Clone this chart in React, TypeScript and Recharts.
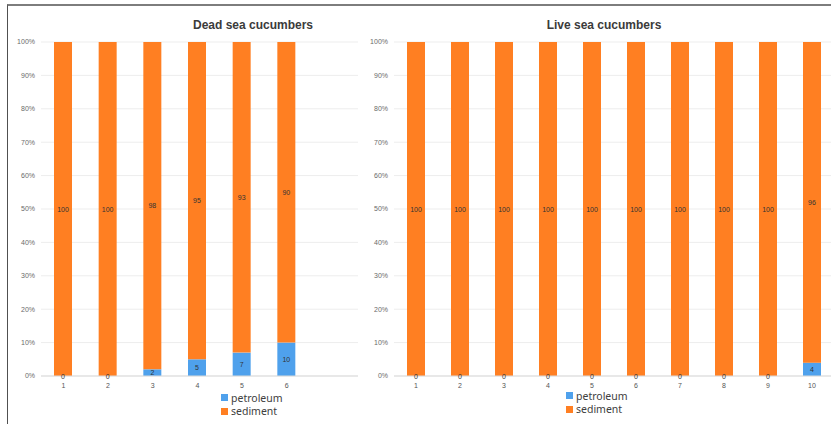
import React from 'react';
import { BarChart, Bar, XAxis, YAxis, CartesianGrid, LabelList, Legend } from 'recharts';

const deadCategories = ['1', '2', '3', '4', '5', '6'];
const deadPetroleum = [0, 0, 2, 5, 7, 10];
const deadSediment = [100, 100, 98, 95, 93, 90];

const liveCategories = ['1', '2', '3', '4', '5', '6', '7', '8', '9', '10'];
const livePetroleum = [0, 0, 0, 0, 0, 0, 0, 0, 0, 4];
const liveSediment = [100, 100, 100, 100, 100, 100, 100, 100, 100, 96];

const yTicks = [0, 10, 20, 30, 40, 50, 60, 70, 80, 90, 100];

const ORANGE = '#FF7F22';
const BLUE = '#4FA1EC';
const FONT = '"Liberation Sans", Arial, sans-serif';

function buildRows(cats: string[], pet: number[], sed: number[]) {
  return cats.map((c, i) => ({ cat: c, petroleum: pet[i], sediment: sed[i] }));
}

const LegendBox = (props: any) => {
  const payload = props.payload || [];
  return (
    <div style={{ fontFamily: '"Noto Sans", sans-serif', fontSize: 10.5, color: '#404040' }}>
      {payload.map((p: any) => (
        <div key={p.value} style={{ display: 'flex', alignItems: 'center', height: 13.5, whiteSpace: 'nowrap' }}>
          <span style={{ width: 7, height: 7, background: p.color, marginRight: 3, display: 'inline-block' }} />
          <span>{p.value}</span>
        </div>
      ))}
    </div>
  );
};

// Draws both segment labels from the top (sediment) layer so none is hidden
const makeStackLabel = (rows: any[]) => (props: any) => {
  const { x, y, width, height, index } = props;
  const row = rows[index];
  if (!row) return null;
  const cx = Number(x) + Number(width) / 2;
  const top = Number(y);
  const h = Number(height);
  const bottom = top + h;
  const petH = row.sediment > 0 ? (h * row.petroleum) / row.sediment : 0;
  return (
    <g>
      <text x={cx} y={top + h / 2} textAnchor="middle" dominantBaseline="central" fontSize={7} fill="#333333">
        {row.sediment}
      </text>
      <text x={cx} y={bottom + petH / 2} textAnchor="middle" dominantBaseline="central" fontSize={7} fill="#333333">
        {row.petroleum}
      </text>
    </g>
  );
};

type PanelProps = {
  data: any[];
  width: number;
  yWidth: number;
  marginRight: number;
  padRight: number;
  legendLeft: number;
  legendTop: number;
};

const Panel = ({ data, width, yWidth, marginRight, padRight, legendLeft, legendTop }: PanelProps) => (
  <BarChart
    width={width}
    height={424}
    data={data}
    margin={{ top: 42, right: marginRight, bottom: 20, left: 0 }}
    style={{ fontFamily: FONT }}
  >
    <CartesianGrid vertical={false} stroke="#EDEDED" strokeWidth={1} />
    <XAxis
      dataKey="cat"
      height={28}
      padding={{ left: 0, right: padRight }}
      tickLine={false}
      axisLine={{ stroke: '#DADADA' }}
      tickSize={4}
      tickMargin={3}
      tick={{ fontSize: 7, fill: '#555555' }}
      interval={0}
    />
    <YAxis
      width={yWidth}
      domain={[0, 100]}
      ticks={yTicks}
      tickFormatter={(v: number) => `${v}%`}
      tickLine={false}
      axisLine={false}
      tickSize={6}
      tickMargin={0}
      tick={{ fontSize: 7, fill: '#6a6a6a' }}
      interval={0}
    />
    <Legend
      layout="vertical"
      align="center"
      verticalAlign="middle"
      content={<LegendBox />}
      wrapperStyle={{ left: legendLeft, top: legendTop, width: 80, height: 28 }}
    />
    <Bar dataKey="petroleum" name="petroleum" stackId="a" fill={BLUE} barSize={18} isAnimationActive={false} />
    <Bar dataKey="sediment" name="sediment" stackId="a" fill={ORANGE} barSize={18} isAnimationActive={false}>
      <LabelList dataKey="sediment" content={makeStackLabel(data)} />
    </Bar>
  </BarChart>
);

const titleStyle: React.CSSProperties = {
  position: 'absolute',
  top: 25,
  transform: 'translate(-50%, -50%)',
  fontFamily: FONT,
  fontWeight: 'bold',
  fontSize: 12,
  color: '#3b3b3b',
  whiteSpace: 'nowrap',
};

export default function App() {
  const deadRows = buildRows(deadCategories, deadPetroleum, deadSediment);
  const liveRows = buildRows(liveCategories, livePetroleum, liveSediment);
  return (
    <div
      style={{
        position: 'absolute',
        left: 0,
        top: 0,
        width: 831,
        height: 424,
        overflow: 'hidden',
        background: '#ffffff',
      }}
    >
      <div style={{ position: 'absolute', left: 0, top: 0 }}>
        <Panel data={deadRows} width={360} yWidth={41} marginRight={2} padRight={49} legendLeft={221} legendTop={391} />
      </div>
      <div style={{ position: 'absolute', left: 350, top: 0 }}>
        <Panel data={liveRows} width={490} yWidth={44} marginRight={6} padRight={0} legendLeft={216} legendTop={389} />
      </div>
      <div style={{ ...titleStyle, left: 253 }}>Dead sea cucumbers</div>
      <div style={{ ...titleStyle, left: 604 }}>Live sea cucumbers</div>
      <div
        style={{
          position: 'absolute',
          left: 7,
          top: 4,
          width: 830,
          height: 430,
          borderTop: '2px solid #7d7d7d',
          borderLeft: '1px solid #505050',
          pointerEvents: 'none',
        }}
      />
    </div>
  );
}
